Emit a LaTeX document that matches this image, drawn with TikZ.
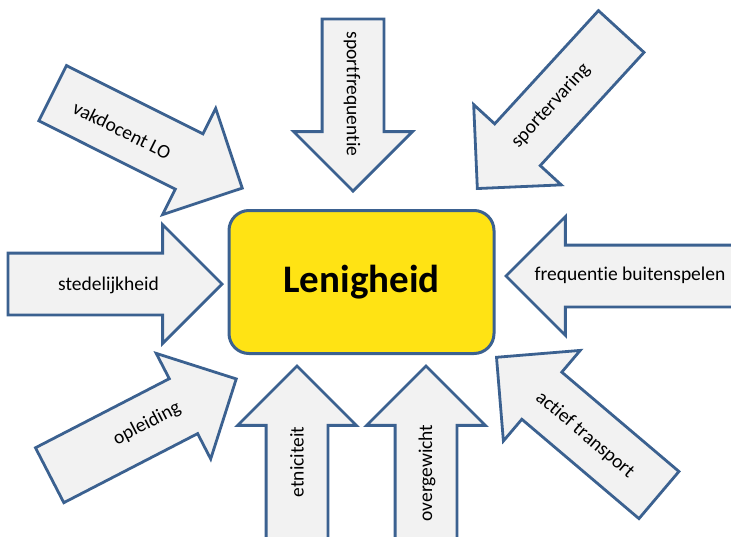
\documentclass[tikz,border=0pt]{standalone}
\usepackage{fontspec}
\setmainfont{Carlito}[Ligatures=NoCommon]
\usepackage{tikz}
\usetikzlibrary{shapes.arrows}
\definecolor{lineblue}{HTML}{3B6190}
\definecolor{arrowgray}{HTML}{F2F2F2}
\definecolor{lenyellow}{HTML}{FFE314}

\begin{document}
\begin{tikzpicture}[x=1pt,y=-1pt,
    factor/.style={single arrow, draw=lineblue, fill=arrowgray, line width=2.8pt,
      minimum width=116pt, single arrow head extend=28.5pt,
      inner xsep=0pt, inner ysep=20.5pt, text height=14pt, text depth=4pt, anchor=tip},
    flipped/.style={shape border rotate=180},
    factortext/.style={inner sep=0pt, font=\fontsize{19.5}{23}\selectfont}]
            \useasboundingbox (0,0) rectangle (731,536);
            \node[draw=lineblue, line width=3pt, fill=lenyellow, rounded corners=20pt,
              minimum width=265pt, minimum height=143pt,
              font=\fontsize{39}{45}\selectfont\bfseries] (len) at (361.5,282) {Lenigheid};
            \node[factor, rotate=-26.6, minimum height=212pt] (vak) at (244,189) {};
            \node[factor, rotate=-90, minimum height=172pt] (freq) at (353,193) {};
            \node[factor, flipped, rotate=47.5, minimum height=213pt] (erv) at (476,190) {};
            \node[factor, minimum height=214pt] (sted) at (224,284) {};
            \node[factor, flipped, minimum height=240pt] (buiten) at (504,276) {};
            \node[factor, rotate=27.3, minimum height=210pt] (opl) at (238,378) {};
            \node[factor, rotate=90, minimum height=190pt] (etn) at (297,364) {};
            \node[factor, rotate=90, minimum height=190pt] (over) at (426,364) {};
            \node[factor, flipped, rotate=-40.3, minimum height=213pt] (act) at (495,356) {};
            \node[factortext, rotate=-26.6] (vaktext) at (122,130) {vakdocent LO};
            \node[factortext, rotate=-90] (freqtext) at (352,94) {sportfrequentie};
            \node[factortext, rotate=47.5] (ervtext) at (551,106) {sportervaring};
            \node[factortext] (stedtext) at (108.5,285) {stedelijkheid};
            \node[factortext] (buitentext) at (630,275) {frequentie buitenspelen};
            \node[factortext, rotate=27.3] (opltext) at (147,424) {opleiding};
            \node[factortext, rotate=90] (etntext) at (297,462) {etniciteit};
            \node[factortext, rotate=90] (overtext) at (427,473) {overgewicht};
            \node[factortext, rotate=-40.3] (acttext) at (585,435) {actief transport};
        \end{tikzpicture}
\end{document}
